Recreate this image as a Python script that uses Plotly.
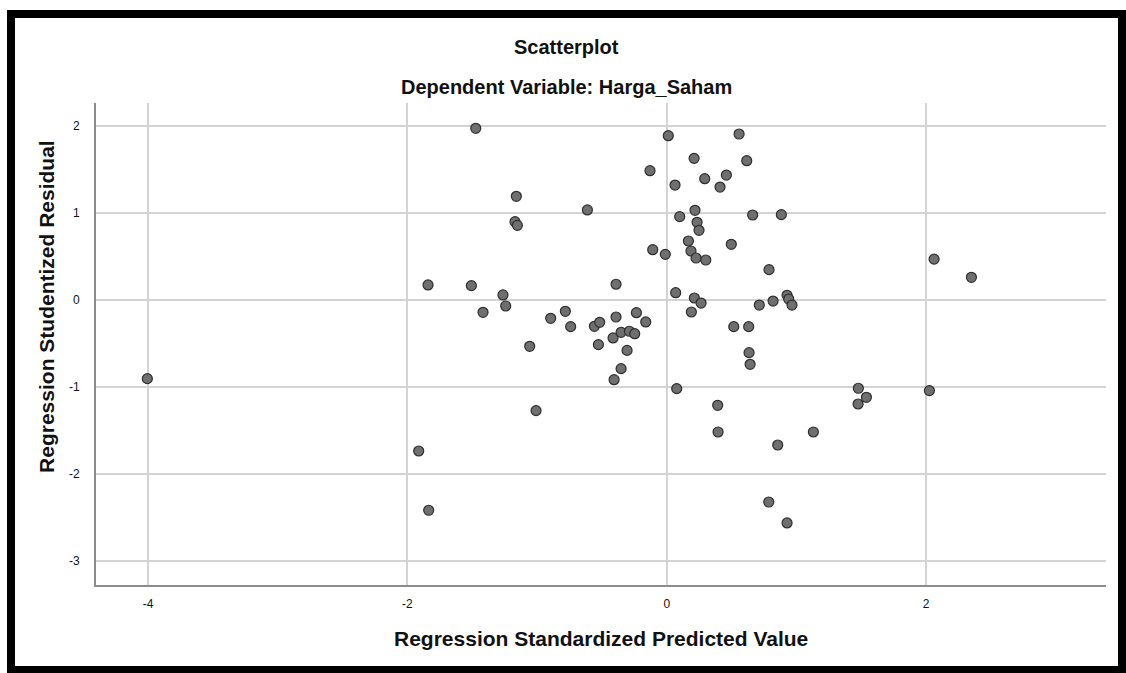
import plotly.graph_objects as go

# Regression Standardized Predicted Value (x) and Studentized Residual (y)
pred = [-4.006, -1.473, 0.012, -0.129, 0.064, -1.160, -0.612, -1.170, -1.152, 0.100,
        -0.108, -0.011, -1.841, -1.507, -1.263, -0.391, 0.069, -1.417, -1.242, -0.782,
        -0.895, -0.741, -0.391, -0.234, -0.162, -0.558, -0.517, -0.414, -0.352, -0.288,
        -0.247, -1.057, -0.527, -0.306, -0.352, -0.406, 0.077, -1.008, -1.913, -1.836,
        0.558, 0.211, 0.617, 0.460, 0.293, 0.411, 0.218, 0.663, 0.884, 0.234,
        0.249, 0.167, 0.498, 0.187, 0.226, 0.301, 2.062, 0.789, 0.213, 0.265,
        0.190, 0.714, 0.820, 0.928, 0.941, 0.966, 0.517, 0.632, 0.635, 0.643,
        0.393, 0.396, 0.856, 1.131, 0.787, 0.928, 1.478, 1.540, 1.476, 2.026, 2.350]
resid = [-0.905, 1.976, 1.891, 1.488, 1.323, 1.193, 1.036, 0.901, 0.859, 0.959,
         0.579, 0.525, 0.173, 0.165, 0.058, 0.181, 0.084, -0.142, -0.069, -0.130,
         -0.211, -0.307, -0.196, -0.146, -0.253, -0.303, -0.257, -0.437, -0.372, -0.360,
         -0.388, -0.533, -0.514, -0.580, -0.790, -0.917, -1.020, -1.273, -1.738, -2.420,
         1.910, 1.630, 1.603, 1.438, 1.396, 1.300, 1.032, 0.978, 0.982, 0.894,
         0.802, 0.679, 0.641, 0.564, 0.483, 0.460, 0.470, 0.349, 0.023, -0.035,
         -0.138, -0.058, -0.012, 0.054, 0.011, -0.058, -0.307, -0.307, -0.606, -0.740,
         -1.212, -1.519, -1.669, -1.519, -2.325, -2.566, -1.016, -1.120, -1.197, -1.043, 0.261]

x_ticks = [-4, -2, 0, 2]
y_ticks = [2, 1, 0, -1, -2, -3]

title_text = "Scatterplot"
subtitle_text = "Dependent Variable: Harga_Saham"
x_title = "Regression Standardized Predicted Value"
y_title = "Regression Studentized Residual"

FONT = "Liberation Sans, Arial, sans-serif"

fig = go.Figure()
fig.add_trace(go.Scatter(
    x=pred, y=resid, mode="markers",
    marker=dict(size=10, color="#6f6f6f", line=dict(color="#2e2e2e", width=1.2)),
    hoverinfo="x+y", showlegend=False,
))

fig.update_layout(
    width=1126, height=673,
    margin=dict(l=96, r=20, t=103, b=88),
    paper_bgcolor="white", plot_bgcolor="white",
    font=dict(family=FONT, color="#111111"),
    xaxis=dict(
        range=[-4.402, 3.388], tickvals=x_ticks, ticktext=[str(v) for v in x_ticks],
        showgrid=True, gridcolor="#d3d3d3", gridwidth=1.6, zeroline=False,
        showline=True, linecolor="#8c8c8c", linewidth=1.8,
        ticks="", tickfont=dict(size=12, color="#111111"), ticklabelstandoff=7,
    ),
    yaxis=dict(
        range=[-3.280, 2.267], tickvals=y_ticks, ticktext=[str(v) for v in y_ticks],
        showgrid=True, gridcolor="#d3d3d3", gridwidth=1.6, zeroline=False,
        showline=True, linecolor="#8c8c8c", linewidth=1.8,
        ticks="", tickfont=dict(size=12, color="#111111"), ticklabelstandoff=12,
    ),
    shapes=[dict(type="rect", xref="paper", yref="paper",
                 x0=-0.08416, x1=1.01584, y0=-0.17635, y1=1.18465,
                 line=dict(color="black", width=8), fillcolor="rgba(0,0,0,0)", layer="above")],
    annotations=[
        dict(text="<b>" + title_text + "</b>", xref="paper", yref="paper", x=0.4663, y=1.1168,
             xanchor="center", yanchor="middle", showarrow=False,
             font=dict(size=20, family=FONT, color="#111111")),
        dict(text="<b>" + subtitle_text + "</b>", xref="paper", yref="paper", x=0.4663, y=1.0338,
             xanchor="center", yanchor="middle", showarrow=False,
             font=dict(size=20, family=FONT, color="#111111")),
        dict(text="<b>" + x_title + "</b>", xref="paper", yref="paper", x=0.5, y=-0.112,
             xanchor="center", yanchor="middle", showarrow=False,
             font=dict(size=21, family=FONT, color="#111111")),
        dict(text="<b>" + y_title + "</b>", xref="paper", yref="paper", x=-0.0485, y=0.577,
             xanchor="center", yanchor="middle", showarrow=False, textangle=-90,
             font=dict(size=21, family=FONT, color="#111111")),
    ],
)

fig.write_html("out.html", config={"displayModeBar": False},
               post_script="document.body.style.margin='0px';document.body.style.overflow='hidden';")
